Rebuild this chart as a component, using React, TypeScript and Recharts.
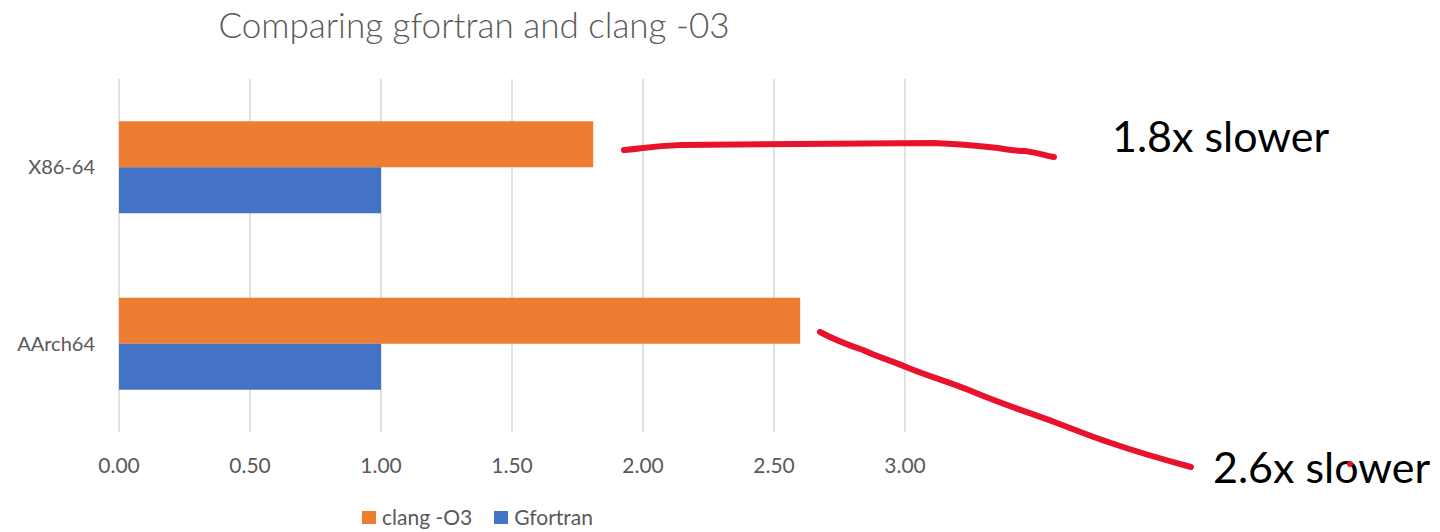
import React from 'react';
import { BarChart, Bar, XAxis, YAxis, CartesianGrid, Legend } from 'recharts';

const architectures = ['X86-64', 'AArch64'];
const clangO3 = [1.81, 2.6];
const gfortran = [1.0, 1.0];
const xTicks = [0, 0.5, 1, 1.5, 2, 2.5, 3];
const legendOrder = ['clang -O3', 'Gfortran'];

const data = architectures.map((arch, i) => ({
  arch,
  clang: clangO3[i],
  gfortran: gfortran[i],
}));

const GRAY = '#595959';
const RED = '#E8132B';
const FONT = 'Lato, "Open Sans", sans-serif';

const renderLegend = (props: any) => {
  const items = [...(props.payload || [])].sort(
    (a: any, b: any) => legendOrder.indexOf(a.value) - legendOrder.indexOf(b.value)
  );
  return (
    <div style={{ display: 'flex', gap: 22, fontFamily: FONT, fontSize: 21, color: GRAY, lineHeight: '24px' }}>
      {items.map((entry: any) => (
        <div key={entry.value} style={{ display: 'flex', alignItems: 'center' }}>
          <span style={{ width: 14, height: 13, background: entry.color, display: 'inline-block', marginRight: 6 }} />
          {entry.value}
        </div>
      ))}
    </div>
  );
};

export default function App() {
  return (
    <div style={{ position: 'absolute', left: 0, top: 0, width: 1440, height: 532, background: '#fff' }}>
      <div
        style={{
          position: 'absolute',
          left: 0,
          width: 948,
          top: 3,
          textAlign: 'center',
          fontFamily: FONT,
          fontWeight: 300,
          fontSize: 35,
          color: GRAY,
          whiteSpace: 'nowrap',
        }}
      >
        Comparing gfortran and clang -03
      </div>
      <BarChart
        width={1440}
        height={532}
        data={data}
        layout="vertical"
        margin={{ top: 79, right: 535, bottom: 60, left: 8 }}
        barCategoryGap="24%"
        barGap={0}
      >
        <CartesianGrid horizontal={false} stroke="#d9d9d9" strokeWidth={1.5} />
        <XAxis
          type="number"
          domain={[0, 3]}
          ticks={xTicks}
          tickFormatter={(v: number) => v.toFixed(2)}
          axisLine={false}
          tickLine={false}
          tickMargin={20}
          height={40}
          tick={{ fill: GRAY, fontSize: 21, fontFamily: FONT }}
        />
        <YAxis
          type="category"
          dataKey="arch"
          width={111}
          axisLine={false}
          tickLine={false}
          tickMargin={18}
          tick={{ fill: GRAY, fontSize: 20, fontFamily: FONT }}
        />
        <Legend
          verticalAlign="middle"
          align="center"
          content={renderLegend}
          wrapperStyle={{ top: 505, left: 362, width: 'auto' }}
        />
        <Bar dataKey="clang" name="clang -O3" fill="#ED7D31" isAnimationActive={false} />
        <Bar dataKey="gfortran" name="Gfortran" fill="#4472C4" isAnimationActive={false} />
      </BarChart>
      <svg
        width={1440}
        height={532}
        style={{ position: 'absolute', left: 0, top: 0, pointerEvents: 'none' }}
      >
        <path
          d="M624 150 C640 149 650 146 681 145 L933 143 C960 144 980 146 998 148 C1010 150 1018 151 1025 151 C1040 153 1047 156 1054 157"
          fill="none"
          stroke={RED}
          strokeWidth={6}
          strokeLinecap="round"
        />
        <path
          d="M820 332 C835 340 848 345 863 350 C880 358 890 360 906 367 C930 377 950 382 976 393 C1005 405 1030 413 1057 423 C1080 432 1095 438 1111 443 C1140 453 1165 460 1191 467"
          fill="none"
          stroke={RED}
          strokeWidth={6}
          strokeLinecap="round"
        />
        <text x={1112} y={152} fontFamily={FONT} fontSize={43} fill="#000">1.8x slower</text>
        <text x={1213} y={483} fontFamily={FONT} fontSize={43} fill="#000">2.6x slower</text>
        <circle cx={1350} cy={464} r={3} fill={RED} />
      </svg>
    </div>
  );
}
